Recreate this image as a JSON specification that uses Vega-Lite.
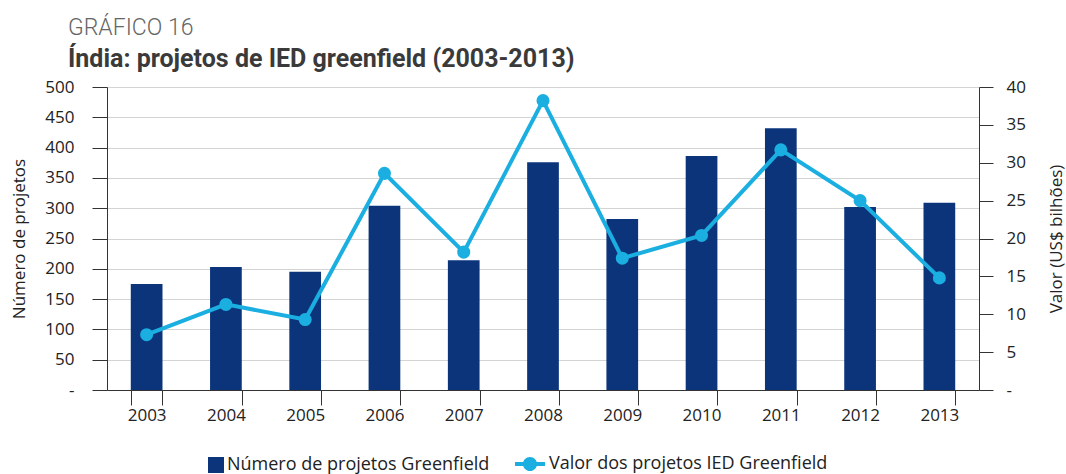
{
  "$schema": "https://vega.github.io/schema/vega-lite/v6.json",
  "width": 872,
  "height": 303,
  "autosize": {"type": "none"},
  "padding": {"left": 107, "top": 87, "right": 87, "bottom": 84},
  "background": "white",
  "title": {
    "text": "GRÁFICO 16",
    "subtitle": "Índia: projetos de IED greenfield (2003-2013)",
    "anchor": "start",
    "frame": "group",
    "dx": -39,
    "offset": 6,
    "font": "Roboto",
    "fontSize": 23,
    "fontWeight": 300,
    "color": "#666666",
    "subtitleFont": "Roboto",
    "subtitleFontSize": 25,
    "subtitleFontWeight": "bold",
    "subtitleColor": "#3a3a3a",
    "subtitlePadding": 7
  },
  "data": {
    "values": [
      {"ano": "2003", "projetos": 175, "valor": 7.3},
      {"ano": "2004", "projetos": 203, "valor": 11.3},
      {"ano": "2005", "projetos": 195, "valor": 9.3},
      {"ano": "2006", "projetos": 304, "valor": 28.6},
      {"ano": "2007", "projetos": 214, "valor": 18.2},
      {"ano": "2008", "projetos": 376, "valor": 38.2},
      {"ano": "2009", "projetos": 282, "valor": 17.4},
      {"ano": "2010", "projetos": 386, "valor": 20.4},
      {"ano": "2011", "projetos": 432, "valor": 31.7},
      {"ano": "2012", "projetos": 302, "valor": 25.0},
      {"ano": "2013", "projetos": 309, "valor": 14.8}
    ]
  },
  "encoding": {
    "x": {
      "field": "ano",
      "type": "ordinal",
      "scale": {"paddingInner": 0.6, "paddingOuter": 0.3},
      "axis": {
        "title": null,
        "labelAngle": 0,
        "tickBand": "extent",
        "domain": true,
        "ticks": true,
        "tickSize": 15,
        "labelPadding": 2,
        "labelFontSize": 17,
        "labelFont": "Open Sans",
        "labelColor": "#222222",
        "domainColor": "#333333",
        "tickColor": "#333333"
      }
    }
  },
  "layer": [
    {
      "mark": {"type": "bar", "color": "#0b347b"},
      "encoding": {
        "y": {
          "field": "projetos",
          "type": "quantitative",
          "scale": {"domain": [0, 500], "nice": false},
          "axis": {
            "title": "Número de projetos",
            "titleFont": "Open Sans",
            "titleFontSize": 17,
            "titleFontWeight": "normal",
            "titleColor": "#222222",
            "titlePadding": 16,
            "values": [0, 50, 100, 150, 200, 250, 300, 350, 400, 450, 500],
            "labelExpr": "datum.value == 0 ? '-' : datum.label",
            "labelFont": "Open Sans",
            "labelFontSize": 17,
            "labelColor": "#222222",
            "labelPadding": 18,
            "domain": true,
            "domainWidth": 1,
            "domainColor": "#333333",
            "ticks": true,
            "tickSize": 15,
            "tickWidth": 1,
            "tickColor": "#333333",
            "zindex": 0,
            "grid": true,
            "gridColor": "#d4d4d4",
            "gridWidth": 1
          }
        },
        "color": {
          "datum": "Número de projetos Greenfield",
          "scale": {"range": ["#0b347b"]},
          "legend": {
            "title": null,
            "orient": "none",
            "legendX": 100,
            "legendY": 369,
            "symbolType": "square",
            "symbolSize": 256,
            "symbolStrokeWidth": 0,
            "labelFont": "Open Sans",
            "labelFontSize": 18,
            "labelColor": "#222222",
            "labelOffset": 2,
            "labelLimit": 500,
            "padding": 0
          }
        }
      }
    },
    {
      "mark": {"type": "line", "strokeWidth": 4, "point": {"filled": true, "size": 170, "opacity": 1}},
      "encoding": {
        "y": {
          "field": "valor",
          "type": "quantitative",
          "scale": {"domain": [0, 40], "nice": false},
          "axis": {
            "orient": "right",
            "title": "Valor (US$ bilhões)",
            "titleAngle": 270,
            "titleFont": "Open Sans",
            "titleFontSize": 17,
            "titleFontWeight": "normal",
            "titleColor": "#222222",
            "titlePadding": 40,
            "values": [0, 5, 10, 15, 20, 25, 30, 35, 40],
            "labelExpr": "datum.value == 0 ? '-' : datum.label",
            "labelFont": "Open Sans",
            "labelFontSize": 17,
            "labelColor": "#222222",
            "labelPadding": 13,
            "domain": true,
            "ticks": true,
            "tickSize": 14,
            "tickColor": "#333333",
            "domainColor": "#333333",
            "grid": false
          }
        },
        "color": {
          "datum": "Valor dos projetos IED Greenfield",
          "scale": {"range": ["#1aafe0"]},
          "legend": {
            "title": null,
            "orient": "none",
            "legendX": 408,
            "legendY": 362,
            "symbolType": "M-1,-0.13H1V0.13H-1Z M-0.47,0A0.47,0.47 0 1,1 0.47,0A0.47,0.47 0 1,1 -0.47,0Z",
            "symbolSize": 900,
            "symbolFillColor": "#1aafe0",
            "symbolStrokeColor": "#1aafe0",
            "symbolStrokeWidth": 0,
            "labelFont": "Open Sans",
            "labelFontSize": 18,
            "labelColor": "#222222",
            "labelOffset": 4,
            "labelLimit": 500,
            "padding": 0
          }
        }
      }
    }
  ],
  "resolve": {"scale": {"y": "independent", "color": "independent"}},
  "config": {
    "view": {"stroke": null}
  }
}
